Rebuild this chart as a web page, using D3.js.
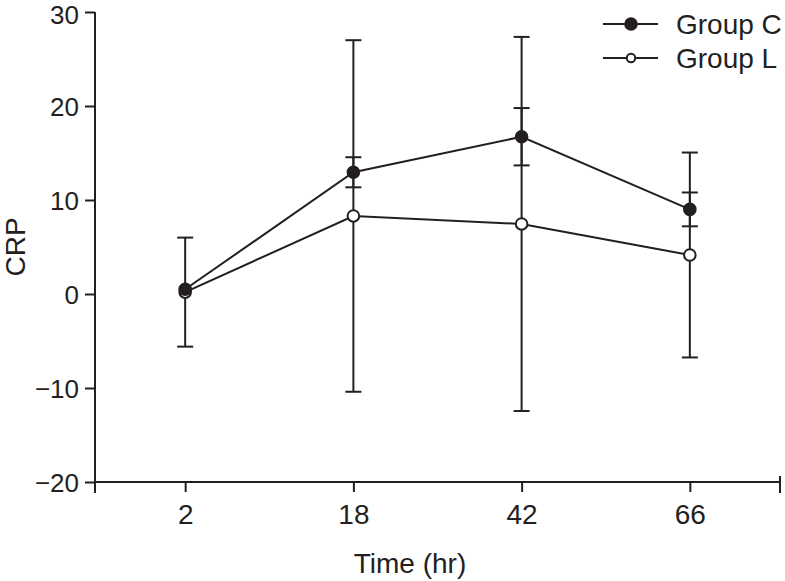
<!DOCTYPE html>
<html>
<head>
<meta charset="utf-8">
<script src="https://cdn.jsdelivr.net/npm/d3@7"></script>
<style>
  html, body { margin: 0; padding: 0; background: #fff; }
  svg { display: block; }
  text { font-family: "Liberation Sans", Arial, Helvetica, sans-serif; fill: #231f20; }
</style>
</head>
<body>
<svg id="chart" width="785" height="581"></svg>
<script>
// ---- data ----
const timeLabels = ["2", "18", "42", "66"];
const groupCMean = [0.5, 12.95, 16.73, 9.0];
const groupCSD   = [0.0, 1.6, 3.05, 1.8];
const groupLMean = [0.2, 8.3, 7.45, 4.15];
const groupLSD   = [5.8, 18.7, 19.9, 10.9];
const yTicks = [-20, -10, 0, 10, 20, 30];
const seriesNames = ["Group C", "Group L"];

const ink = "#231f20";
const svg = d3.select("#chart");

const x = d3.scaleLinear().domain([-0.536, timeLabels.length - 1 + 0.536]).range([95, 780]);
const y = d3.scaleLinear().domain([-20, 30]).range([482, 12]);

const series = [
  { name: seriesNames[0], mean: groupCMean, sd: groupCSD, fill: ink },
  { name: seriesNames[1], mean: groupLMean, sd: groupLSD, fill: "#fff" }
];

// ---- axes ----
const yAxis = d3.axisLeft(y).tickValues(yTicks).tickSize(10).tickPadding(6)
  .tickFormat(d => d < 0 ? "\u2212" + Math.abs(d) : String(d));
const gy = svg.append("g").attr("transform", "translate(95,0)").call(yAxis);
gy.select(".domain").remove();
gy.selectAll(".tick line").attr("stroke", ink).attr("stroke-width", 2);
gy.selectAll(".tick text").attr("font-size", 26)
  .attr("dy", d => d === 30 ? "0.45em" : "0.36em").style("fill", ink);
svg.append("line").attr("x1", 95).attr("x2", 95).attr("y1", y(30)).attr("y2", 493)
  .attr("stroke", ink).attr("stroke-width", 2);

const xAxis = d3.axisBottom(x).tickValues(d3.range(timeLabels.length))
  .tickFormat(i => timeLabels[i]).tickSize(10).tickPadding(12);
const gx = svg.append("g").attr("transform", "translate(0,482)").call(xAxis);
gx.select(".domain").remove();
gx.selectAll(".tick line").attr("stroke", ink).attr("stroke-width", 2);
gx.selectAll(".tick text").attr("font-size", 28).style("fill", ink);
svg.append("line").attr("x1", 94).attr("x2", 781).attr("y1", 482).attr("y2", 482)
  .attr("stroke", ink).attr("stroke-width", 2);
svg.append("line").attr("x1", 780).attr("x2", 780).attr("y1", 476).attr("y2", 493)
  .attr("stroke", ink).attr("stroke-width", 2);

// axis titles
svg.append("text").attr("x", 410).attr("y", 573).attr("text-anchor", "middle")
  .attr("font-size", 28).text("Time (hr)");
svg.append("text").attr("transform", "translate(25,247) rotate(-90)")
  .attr("text-anchor", "middle").attr("font-size", 28).text("CRP");

// ---- error bars ----
const capW = 8;
series.forEach(s => {
  const g = svg.append("g");
  s.mean.forEach((m, i) => {
    if (s.sd[i] <= 0) return;
    const hi = y(m + s.sd[i]), lo = y(m - s.sd[i]), cx = x(i);
    g.append("line").attr("x1", cx).attr("x2", cx).attr("y1", hi).attr("y2", lo)
      .attr("stroke", ink).attr("stroke-width", 2);
    [hi, lo].forEach(yy => g.append("line").attr("x1", cx - capW).attr("x2", cx + capW)
      .attr("y1", yy).attr("y2", yy).attr("stroke", ink).attr("stroke-width", 2));
  });
});

// ---- lines ----
const line = d3.line().x((d, i) => x(i)).y(d => y(d));
series.forEach(s => {
  svg.append("path").datum(s.mean).attr("d", line)
    .attr("fill", "none").attr("stroke", ink).attr("stroke-width", 2);
});

// ---- markers ----
series.slice().reverse().forEach(s => {
  svg.append("g").selectAll("circle").data(s.mean).join("circle")
    .attr("cx", (d, i) => x(i)).attr("cy", d => y(d)).attr("r", 5.8)
    .attr("fill", s.fill).attr("stroke", ink).attr("stroke-width", 2);
});

// ---- legend ----
const legendRows = [24, 58];
series.forEach((s, k) => {
  const ly = legendRows[k];
  svg.append("line").attr("x1", 603).attr("x2", 658).attr("y1", ly).attr("y2", ly)
    .attr("stroke", ink).attr("stroke-width", 2);
  svg.append("circle").attr("cx", 631).attr("cy", ly).attr("r", k === 0 ? 5.8 : 4.2)
    .attr("fill", s.fill).attr("stroke", ink).attr("stroke-width", 2);
  svg.append("text").attr("x", 676).attr("y", ly + 10).attr("font-size", 28).text(s.name);
});
</script>
</body>
</html>
